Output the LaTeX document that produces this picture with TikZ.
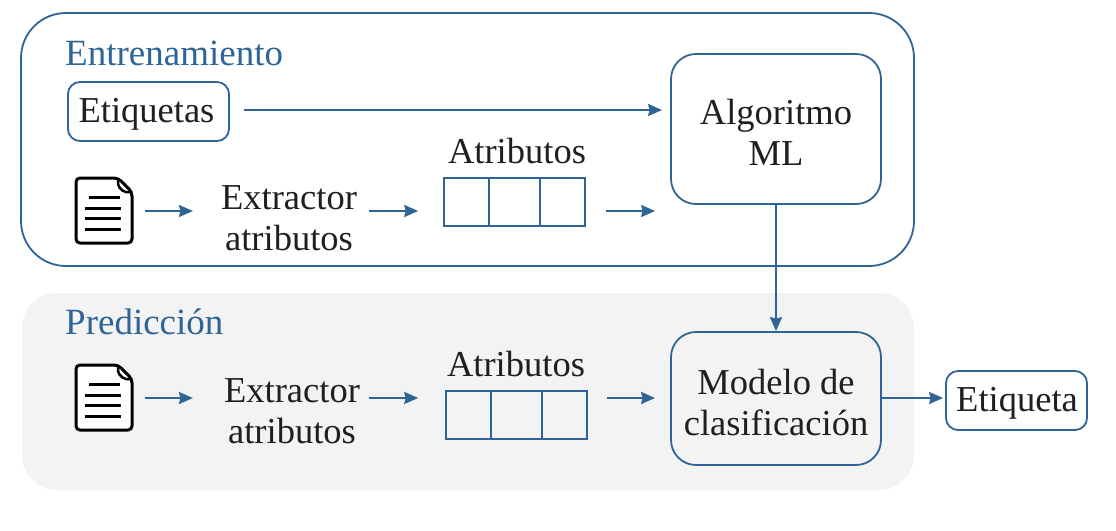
\documentclass[tikz,border=0pt]{standalone}
\usepackage{fontspec}
\setmainfont{Liberation Serif}
\usetikzlibrary{arrows.meta}
\definecolor{azul}{HTML}{2F6496}
\definecolor{gris}{HTML}{F3F3F4}
\tikzset{
    caja/.style={draw=azul, line width=1.8pt, rounded corners=#1, align=center, inner sep=0pt},
    caja/.default=12pt,
    texto/.style={font=\fontsize{36.5}{41}\selectfont, align=center, text=black!88, inner sep=0pt},
    titulo/.style={font=\fontsize{37}{40}\selectfont, text=azul, anchor=west, inner sep=0pt},
    flecha/.style={draw=azul, line width=2pt, -{Stealth[length=14pt,width=12pt,inset=1.5pt]}},
    celdas/.style={draw=azul, line width=1.6pt, minimum width=141pt, minimum height=48pt, inner sep=0pt},
    docicono/.pic={
        \draw[line width=3pt, rounded corners=4pt, fill=white] (-28,-33) -- (14,-33) -- (28,-19) -- (28,32) -- (-28,32) -- cycle;
        \draw[line width=2.5pt, rounded corners=2pt] (14,-33) -- (14,-25) -- (20,-19) -- (28,-19);
        \draw[line width=3pt] (-15,-14) -- (16,-14);
        \foreach \y in {-3,7,18} {
            \draw[line width=3pt] (-19,\y) -- (17,\y);
        }
        \coordinate (-e) at (29,0);
    }
}
\begin{document}
\begin{tikzpicture}[x=1pt, y=-1pt]
\useasboundingbox (0,0) rectangle (1116,530);

% bloques de fondo
\node[caja=45pt, minimum width=893pt, minimum height=253pt] (entreno) at (467.5,139.5) {};
\node[fill=gris, rounded corners=35pt, minimum width=892pt, minimum height=197pt, inner sep=0pt] (pred) at (468,391.5) {};

\node[titulo] (tituloa) at (65,53) {Entrenamiento};
\node[titulo] (titulob) at (65,322) {Predicción};

% entrenamiento
\node[caja, minimum width=161pt, minimum height=59pt] (etiquetas) at (148.5,111.5) {};
\node[texto] (tetiquetas) at (146.5,114) {Etiquetas};
\node[caja=25pt, minimum width=210pt, minimum height=150pt] (algo) at (776,129) {};
\node[texto] (talgo) at (776,132) {Algoritmo\\ML};
\pic (doca) at (104,211) {docicono};
\node[texto] (exta) at (289,218) {Extractor\\atributos};
\node[celdas] (attra) at (514.5,202) {};
\node[texto] (lattra) at (517,151) {Atributos};

% prediccion
\node[caja=25pt, fill=gris, minimum width=210pt, minimum height=133pt] (modelo) at (776,398.5) {};
\node[texto] (tmodelo) at (776,403) {Modelo de\\clasificación};
\node[caja, fill=white, minimum width=141pt, minimum height=59pt] (etiqueta) at (1016.5,400.5) {};
\node[texto] (tetiqueta) at (1017,403) {Etiqueta};
\pic (docb) at (104,398) {docicono};
\node[texto] (extb) at (292,411) {Extractor\\atributos};
\node[celdas] (attrb) at (516.5,415) {};
\node[texto] (lattrb) at (516,364) {Atributos};

% divisiones
\foreach \n/\a/\b in {attra/489/540, attrb/491/542} {
    \draw[azul, line width=1.4pt] (\a,0 |- \n.north) -- (\a,0 |- \n.south);
    \draw[azul, line width=1.4pt] (\b,0 |- \n.north) -- (\b,0 |- \n.south);
}

% flechas
\draw[flecha, shorten <=14pt, shorten >=8pt] (etiquetas.east |- 0,110) -- (algo.west |- 0,110);
\draw[flecha, shorten <=12pt, shorten >=28pt] (doca-e) -- (exta.west |- doca-e);
\draw[flecha, shorten <=12pt, shorten >=25pt] (exta.east |- doca-e) -- (attra.west |- doca-e);
\draw[flecha, shorten <=20pt, shorten >=15pt] (attra.east |- doca-e) -- (algo.west |- doca-e);
\draw[flecha] (algo.south) -- (modelo.north);

\draw[flecha, shorten <=12pt, shorten >=31pt] (docb-e) -- (extb.west |- docb-e);
\draw[flecha, shorten <=9pt, shorten >=27pt] (extb.east |- docb-e) -- (attrb.west |- docb-e);
\draw[flecha, shorten <=19pt, shorten >=15pt] (attrb.east |- docb-e) -- (modelo.west |- docb-e);
\draw[flecha, shorten >=2pt] (modelo.east |- docb-e) -- (etiqueta.west |- docb-e);
\end{tikzpicture}
\end{document}
